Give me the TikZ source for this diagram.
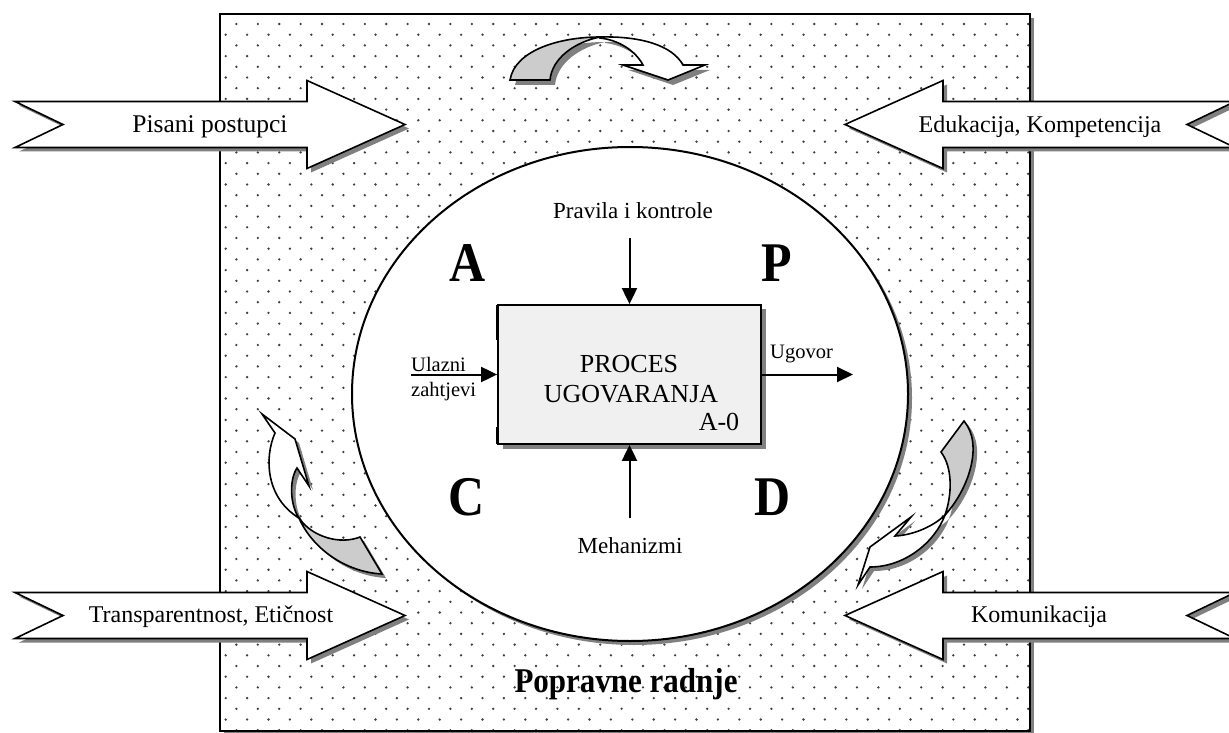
\documentclass[tikz,border=0pt]{standalone}
\usepackage{graphicx}
\usepackage{fontspec}
\setmainfont{Liberation Serif}
\usetikzlibrary{arrows.meta}
\newcommand\topgraypart{(510,80) .. controls (515,50) and (560,37) .. (600,37) .. controls (575,42) and (552,58) .. (550,80) -- cycle}
\newcommand\topwhitepart{(600,37) .. controls (640,36) and (672,45) .. (683,65) -- (705,65) -- (668,80) -- (623,65) -- (643,65) .. controls (635,50) and (618,40) .. (600,38) -- cycle}
\newcommand\lftwhitepart{(262,414) -- (275,433) .. controls (264,458) and (266,498) .. (299,518) .. controls (290,505) and (289,480) .. (297,468) -- (309,486) -- (295,439) -- cycle}
\newcommand\lftgraypart{(299,518) .. controls (312,548) and (345,572) .. (382,574) -- (360,537) .. controls (340,545) and (312,537) .. (299,518) -- cycle}
\newcommand\rgtgraypart{(964,421) -- (941,452) .. controls (953,468) and (952,495) .. (945,515) .. controls (968,490) and (984,445) .. (964,421) -- cycle}
\newcommand\rgtwhitepart{(945,515) .. controls (935,542) and (905,567) .. (870,567) -- (858,585) -- (870,547) -- (911,517) -- (895,536) .. controls (915,535) and (935,525) .. (945,515) -- cycle}
\newcommand\bigleft[1]{(15,#1-23) -- (307,#1-23) -- (307,#1-44) -- (405,#1) -- (307,#1+44) -- (307,#1+23) -- (15,#1+23) -- (63,#1) -- cycle}
\newcommand\bigright[1]{(1235,#1-23) -- (943,#1-23) -- (943,#1-44) -- (845,#1) -- (943,#1+44) -- (943,#1+23) -- (1235,#1+23) -- (1187,#1) -- cycle}
\begin{document}
\begin{tikzpicture}[x=1pt,y=-1pt,
  outline/.style={draw=black,line width=1.6pt,line join=miter},
  shadowfill/.style={fill=black!50,draw=none},
  idef/.style={line width=2pt,-{Triangle[length=16pt,width=15pt]}},
  lbl/.style={inner sep=0pt,font=\fontsize{20.5}{22}\selectfont},
  midlbl/.style={inner sep=0pt,font=\fontsize{23}{26}\selectfont},
  boxlbl/.style={inner sep=0pt,font=\fontsize{26}{28}\selectfont},
  biglbl/.style={inner sep=0pt,font=\fontsize{24}{26}\selectfont},
  letter/.style={inner sep=0pt,font=\fontsize{50}{50}\selectfont\bfseries},
]
\useasboundingbox (0,0) rectangle (1229,733);
% outer dotted area
\fill[black!50] (224,18) rectangle (1034,737);
\fill[white] (220,14) rectangle (1030,731);
\begin{scope}
\clip (221,15) rectangle (1029,730);
\foreach \j in {0,...,66}{
  \pgfmathsetmacro\xo{225.7+10.7*mod(\j+1,2)}
  \fill[black!75] \foreach \i in {0,...,37}{ (\xo+21.4*\i, 24+10.7*\j) circle[radius=1.3pt] };
}
\end{scope}
\draw[line width=2pt] (220,14) rectangle (1030,731);
% ellipse
\fill[black!50] (634,398) ellipse[x radius=278pt,y radius=247pt];
\draw[line width=2pt,fill=white] (630,394) ellipse[x radius=278pt,y radius=247pt];
% box
\fill[black!50] (503,309) rectangle (766,449);
\node[draw,line width=1.8pt,fill=black!6,minimum width=263pt,minimum height=139pt,inner sep=0pt] (box) at (629.5,374.5) {};
\draw[line width=1.6pt] (496.5,305) -- (496.5,340) (496.5,427) -- (496.5,444);
\node[boxlbl,anchor=base] (t1) at (629,372) {PROCES};
\node[boxlbl,anchor=base] (t2) at (631,402) {UGOVARANJA};
\node[boxlbl,anchor=base] (t3) at (719,430) {A-0};
% IDEF0 arrows
\coordinate (cin) at (629.5,238);
\coordinate (min) at (629.5,518);
\coordinate (iin) at (411,374.5);
\coordinate (oout) at (853,374.5);
\draw[idef] (cin) -- (box.north);
\draw[idef] (min) -- (box.south);
\draw[idef] (iin) -- (box.west);
\draw[idef] (box.east) -- (oout);
\node[midlbl,anchor=base] (ctl) at (633,218) {Pravila i kontrole};
\node[midlbl,anchor=base] (mec) at (630,553) {Mehanizmi};
\node[lbl,anchor=base west] (ul1) at (411,371) {Ulazni};
\node[lbl,anchor=base west] (ul2) at (411,396) {zahtjevi};
\node[lbl,anchor=base west] (ug) at (770,358) {Ugovor};
% letters
\node[letter,anchor=base] (la) at (468,281) {\scalebox{1}[1.12]{A}};
\node[letter,anchor=base] (lp) at (777,281) {\scalebox{1}[1.12]{P}};
\node[letter,anchor=base] (lc) at (467,515) {\scalebox{1}[1.12]{C}};
\node[letter,anchor=base] (ld) at (773,515) {\scalebox{1}[1.12]{D}};
\node[inner sep=0pt,anchor=base,font=\fontsize{31}{33}\selectfont\bfseries] (pr) at (626,692) {\scalebox{1}[1.12]{Popravne radnje}};
% big arrows
\fill[shadowfill,shift={(4,4)}] \bigleft{124.5};
\fill[shadowfill,shift={(4,4)}] \bigleft{615.5};
\fill[shadowfill,shift={(4,4)}] \bigright{124.5};
\fill[shadowfill,shift={(4,4)}] \bigright{615.5};
\draw[outline,fill=white] \bigleft{124.5};
\draw[outline,fill=white] \bigleft{615.5};
\draw[outline,fill=white] \bigright{124.5};
\draw[outline,fill=white] \bigright{615.5};
\node[biglbl,anchor=base,font=\fontsize{25.5}{27}\selectfont] (a1) at (210,133) {Pisani postupci};
\node[biglbl,anchor=base] (a2) at (1040,133) {Edukacija, Kompetencija};
\node[biglbl,anchor=base] (a3) at (211,622) {Transparentnost, Etičnost};
\node[biglbl,anchor=base] (a4) at (1039,622) {Komunikacija};
% curved arrows
\fill[shadowfill,shift={(5,5)}] \topgraypart;
\fill[shadowfill,shift={(5,5)}] \topwhitepart;
\draw[outline,fill=black!20] \topgraypart;
\draw[outline,fill=white] \topwhitepart;
\fill[shadowfill,shift={(4,4)}] \lftwhitepart;
\fill[shadowfill,shift={(4,4)}] \lftgraypart;
\draw[outline,fill=white] \lftwhitepart;
\draw[outline,fill=black!20] \lftgraypart;
\fill[shadowfill,shift={(4,4)}] \rgtgraypart;
\fill[shadowfill,shift={(4,4)}] \rgtwhitepart;
\draw[outline,fill=black!20] \rgtgraypart;
\draw[outline,fill=white] \rgtwhitepart;
\end{tikzpicture}
\end{document}
